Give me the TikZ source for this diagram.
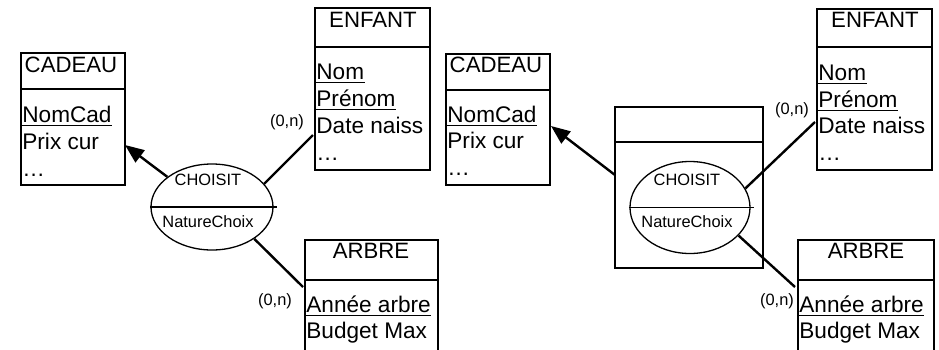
\documentclass[tikz,border=0pt]{standalone}
\usepackage{fontspec}
\setmainfont{Liberation Sans}
\usetikzlibrary{arrows.meta, shapes.geometric, calc}
\tikzset{>=Triangle}

\begin{document}
\begin{tikzpicture}[x=0.5pt,y=-0.5pt]

         %%%%%%%%%%%%%%%%%%%%%%%%%%%%%%%%%%%%%%%%%%%%%%%%%%%%%%%%%%%%%%%%%%%%%%
         % Stile
         %%%%%%%%%%%%%%%%%%%%%%%%%%%%%%%%%%%%%%%%%%%%%%%%%%%%%%%%%%%%%%%%%%%%%%
         \tikzset{
            boite/.style={line width=1.3pt},
            trait/.style={line width=1.1pt},
            titre/.style={inner sep=0pt, anchor=base,
               font=\fontsize{11.1pt}{13pt}\selectfont},
            attribut/.style={inner sep=0pt, anchor=base west,
               font=\fontsize{11.3pt}{13pt}\selectfont},
            petit/.style={inner sep=0pt,
               font=\fontsize{8.2pt}{10pt}\selectfont},
            relation/.style={ellipse, draw, line width=0.65pt, inner sep=0pt},
            souligne/.style={line width=0.5pt},
            lien/.style={line width=1.2pt},
            fleche/.style={line width=1.2pt, -{Triangle[length=9.5pt,width=7.5pt]}}
         }

         \useasboundingbox (0,0) rectangle (939,349);
         \clip (0,0) rectangle (939,349);

         %%%%%%%%%%%%%%%%%%%%%%%%%%%%%%%%%%%%%%%%%%%%%%%%%%%%%%%%%%%%%%%%%%%%%%
         % LINKS: CADEAU
         %%%%%%%%%%%%%%%%%%%%%%%%%%%%%%%%%%%%%%%%%%%%%%%%%%%%%%%%%%%%%%%%%%%%%%
         \draw[boite] (21,53) rectangle (125,185);
         \draw[trait] (21,89) -- (125,89);
         \node[titre] (titreCadeauG) at (71,72) {CADEAU};
         \node[attribut] (nomCadG)  at (22,122) {NomCad};
         \node[attribut] (prixG)    at (22,149) {Prix cur};
         \node[attribut] (suiteCadG) at (22,176) {…};
         \draw[souligne] ($(nomCadG.base west)+(0,3)$) -- ($(nomCadG.base east)+(0,3)$);

         %%%%%%%%%%%%%%%%%%%%%%%%%%%%%%%%%%%%%%%%%%%%%%%%%%%%%%%%%%%%%%%%%%%%%%
         % LINKS: ENFANT
         %%%%%%%%%%%%%%%%%%%%%%%%%%%%%%%%%%%%%%%%%%%%%%%%%%%%%%%%%%%%%%%%%%%%%%
         \draw[boite] (315,8) rectangle (430,170);
         \draw[trait] (315,47) -- (430,47);
         \node[titre] (titreEnfantG) at (373,27) {ENFANT};
         \node[attribut] (nomG)    at (316,79)  {Nom};
         \node[attribut] (prenomG) at (316,106) {Prénom};
         \node[attribut] (dateG)   at (316,133) {Date naiss};
         \node[attribut] (suiteEnfG) at (316,160) {…};
         \draw[souligne] ($(nomG.base west)+(0,3)$) -- ($(nomG.base east)+(0,3)$);
         \draw[souligne] ($(prenomG.base west)+(0,3)$) -- ($(prenomG.base east)+(0,3)$);

         %%%%%%%%%%%%%%%%%%%%%%%%%%%%%%%%%%%%%%%%%%%%%%%%%%%%%%%%%%%%%%%%%%%%%%
         % LINKS: ARBRE (unten abgeschnitten)
         %%%%%%%%%%%%%%%%%%%%%%%%%%%%%%%%%%%%%%%%%%%%%%%%%%%%%%%%%%%%%%%%%%%%%%
         \draw[boite] (305,240) rectangle (438,360);
         \draw[trait] (305,280) -- (438,280);
         \node[titre] (titreArbreG) at (371,258) {ARBRE};
         \node[attribut] (anneeG)  at (306,312) {Année arbre};
         \node[attribut] (budgetG) at (306,338) {Budget Max};
         \draw[souligne] ($(anneeG.base west)+(0,3)$) -- ($(anneeG.base east)+(0,3)$);

         %%%%%%%%%%%%%%%%%%%%%%%%%%%%%%%%%%%%%%%%%%%%%%%%%%%%%%%%%%%%%%%%%%%%%%
         % LINKS: Relation CHOISIT
         %%%%%%%%%%%%%%%%%%%%%%%%%%%%%%%%%%%%%%%%%%%%%%%%%%%%%%%%%%%%%%%%%%%%%%
         \node[relation, minimum width=61pt, minimum height=43pt] (choisitG) at (212,207) {};
         \draw[line width=0.65pt] (choisitG.west) -- ($(choisitG.east)+(3,0)$);
         \node[petit] (nomRelG)  at (208,180) {CHOISIT};
         \node[petit] (propRelG) at (208,222) {NatureChoix};

         \coordinate (pointeCadeauG) at (125,145);
         \coordinate (bordEnfantG)   at (313,135);
         \coordinate (bordArbreG)    at (303,287);

         \draw[fleche] (choisitG.146) -- (pointeCadeauG);
         \draw[lien] (choisitG.24) -- (bordEnfantG);
         \draw[lien] (choisitG.-37) -- (bordArbreG);

         \node[petit] (cardEnfantG) at (287,122) {(0,n)};
         \node[petit] (cardArbreG)  at (275,301) {(0,n)};

         %%%%%%%%%%%%%%%%%%%%%%%%%%%%%%%%%%%%%%%%%%%%%%%%%%%%%%%%%%%%%%%%%%%%%%
         % RECHTS: CADEAU
         %%%%%%%%%%%%%%%%%%%%%%%%%%%%%%%%%%%%%%%%%%%%%%%%%%%%%%%%%%%%%%%%%%%%%%
         \draw[boite] (446,54) rectangle (550,185);
         \draw[trait] (446,90) -- (550,90);
         \node[titre] (titreCadeauD) at (496,72) {CADEAU};
         \node[attribut] (nomCadD)  at (447,122) {NomCad};
         \node[attribut] (prixD)    at (447,148) {Prix cur};
         \node[attribut] (suiteCadD) at (447,175) {…};
         \draw[souligne] ($(nomCadD.base west)+(0,3)$) -- ($(nomCadD.base east)+(0,3)$);

         %%%%%%%%%%%%%%%%%%%%%%%%%%%%%%%%%%%%%%%%%%%%%%%%%%%%%%%%%%%%%%%%%%%%%%
         % RECHTS: ENFANT
         %%%%%%%%%%%%%%%%%%%%%%%%%%%%%%%%%%%%%%%%%%%%%%%%%%%%%%%%%%%%%%%%%%%%%%
         \draw[boite] (817,9) rectangle (932,170);
         \draw[trait] (817,47) -- (932,47);
         \node[titre] (titreEnfantD) at (875,27) {ENFANT};
         \node[attribut] (nomD)    at (818,80)  {Nom};
         \node[attribut] (prenomD) at (818,107) {Prénom};
         \node[attribut] (dateD)   at (818,133) {Date naiss};
         \node[attribut] (suiteEnfD) at (818,160) {…};
         \draw[souligne] ($(nomD.base west)+(0,3)$) -- ($(nomD.base east)+(0,3)$);
         \draw[souligne] ($(prenomD.base west)+(0,3)$) -- ($(prenomD.base east)+(0,3)$);

         %%%%%%%%%%%%%%%%%%%%%%%%%%%%%%%%%%%%%%%%%%%%%%%%%%%%%%%%%%%%%%%%%%%%%%
         % RECHTS: ARBRE (unten abgeschnitten)
         %%%%%%%%%%%%%%%%%%%%%%%%%%%%%%%%%%%%%%%%%%%%%%%%%%%%%%%%%%%%%%%%%%%%%%
         \draw[boite] (798,240) rectangle (934,360);
         \draw[trait] (798,280) -- (934,280);
         \node[titre] (titreArbreD) at (866,258) {ARBRE};
         \node[attribut] (anneeD)  at (799,312) {Année arbre};
         \node[attribut] (budgetD) at (799,338) {Budget Max};
         \draw[souligne] ($(anneeD.base west)+(0,3)$) -- ($(anneeD.base east)+(0,3)$);

         %%%%%%%%%%%%%%%%%%%%%%%%%%%%%%%%%%%%%%%%%%%%%%%%%%%%%%%%%%%%%%%%%%%%%%
         % RECHTS: Entität-Relation CHOISIT
         %%%%%%%%%%%%%%%%%%%%%%%%%%%%%%%%%%%%%%%%%%%%%%%%%%%%%%%%%%%%%%%%%%%%%%
         \draw[boite] (615,107) rectangle (763,268);
         \draw[trait] (615,142) -- (763,142);

         \node[relation, minimum width=60pt, minimum height=46pt] (choisitD) at (690,207.5) {};
         \draw[line width=0.65pt] (choisitD.west) -- ($(choisitD.east)+(3,0)$);
         \node[petit] (nomRelD)  at (687,180) {CHOISIT};
         \node[petit] (propRelD) at (687,222) {NatureChoix};

         \coordinate (bordAssocD)    at (615,175);
         \coordinate (pointeCadeauD) at (551,126);
         \coordinate (bordEnfantD)   at (815,122);
         \coordinate (bordArbreD)    at (795,287);

         \draw[fleche] (bordAssocD) -- (pointeCadeauD);
         \draw[lien] (choisitD.19) -- (bordEnfantD);
         \draw[lien] (choisitD.-30) -- (bordArbreD);

         \node[petit] (cardEnfantD) at (792,110) {(0,n)};
         \node[petit] (cardArbreD)  at (777,301) {(0,n)};

\end{tikzpicture}
\end{document}
